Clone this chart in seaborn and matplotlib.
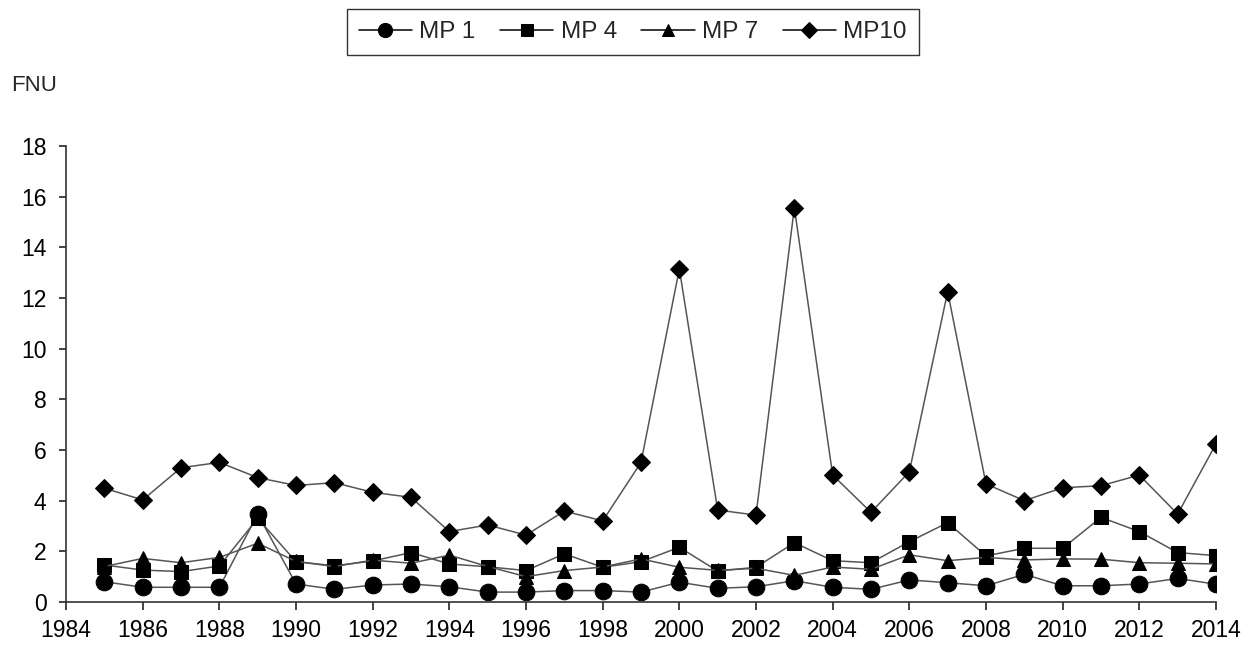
import pandas as pd
import matplotlib.pyplot as plt
import seaborn as sns

# --- Data ---
years = list(range(1985, 2015))

mp1 = [0.80, 0.58, 0.58, 0.58, 3.47, 0.71, 0.50, 0.67, 0.71, 0.60,
       0.39, 0.39, 0.45, 0.45, 0.39, 0.78, 0.54, 0.60, 0.84, 0.58,
       0.50, 0.87, 0.76, 0.64, 1.09, 0.64, 0.64, 0.71, 0.93, 0.70]

mp4 = [1.46, 1.26, 1.20, 1.42, 3.30, 1.59, 1.43, 1.62, 1.95, 1.50,
       1.39, 1.24, 1.90, 1.37, 1.59, 2.16, 1.22, 1.37, 2.34, 1.63,
       1.55, 2.38, 3.13, 1.82, 2.12, 2.12, 3.34, 2.78, 1.95, 1.83]

mp7 = [1.40, 1.72, 1.55, 1.76, 2.32, 1.60, 1.40, 1.65, 1.53, 1.85,
       1.40, 1.00, 1.24, 1.38, 1.70, 1.37, 1.25, 1.33, 1.05, 1.38,
       1.29, 1.86, 1.63, 1.76, 1.66, 1.70, 1.69, 1.55, 1.53, 1.50]

mp10 = [4.49, 4.03, 5.30, 5.51, 4.91, 4.60, 4.71, 4.33, 4.13, 2.78,
        3.04, 2.64, 3.59, 3.20, 5.51, 13.15, 3.63, 3.43, 15.57, 5.01,
        3.54, 5.14, 12.25, 4.66, 4.00, 4.51, 4.59, 5.01, 3.47, 6.24]

series_names = ['MP 1', 'MP 4', 'MP 7', 'MP10']
series_values = [mp1, mp4, mp7, mp10]
markers = {'MP 1': ('o', 12), 'MP 4': ('s', 10.5), 'MP 7': ('^', 10), 'MP10': ('D', 9)}

y_ticks = list(range(0, 19, 2))
x_ticks = list(range(1984, 2015, 2))

# long-format table for seaborn
df = pd.concat([pd.DataFrame({'year': years, 'value': v, 'site': n})
                for n, v in zip(series_names, series_values)], ignore_index=True)

sns.set_style('ticks')
plt.rcParams['font.family'] = ['Liberation Sans', 'DejaVu Sans']

fig = plt.figure(figsize=(12.58, 6.45), dpi=100)
ax = fig.add_axes([0.0525, 0.0667, 0.9141, 0.7069])

for name in series_names:
    m, ms = markers[name]
    sns.lineplot(data=df[df['site'] == name], x='year', y='value', ax=ax,
                 color='#555555', linewidth=1.1, marker=m, markersize=ms,
                 markerfacecolor='black', markeredgecolor='black',
                 label=name, legend=False)

ax.set_xlim(1984, 2014)
ax.set_ylim(0, 18)
ax.set_xticks(x_ticks)
ax.set_yticks(y_ticks)
ax.set_xlabel('')
ax.set_ylabel('')
ax.tick_params(axis='both', labelsize=16.5, colors='#222222', width=1.2, direction='out')
ax.tick_params(axis='y', length=5, pad=9)
ax.tick_params(axis='x', length=6, pad=6)
for side in ['left', 'bottom']:
    ax.spines[side].set_color('#333333')
    ax.spines[side].set_linewidth(1.2)
sns.despine(ax=ax)
for lbl in ax.get_xticklabels() + ax.get_yticklabels():
    lbl.set_color('black')

fig.text(0.009, 0.868, 'FNU', fontsize=16, va='center', ha='left')

handles, labels = ax.get_legend_handles_labels()
leg = fig.legend(handles, labels, loc='center', bbox_to_anchor=(0.503, 0.95), ncol=4,
                 fontsize=17.5, frameon=True, fancybox=False, edgecolor='black',
                 markerscale=0.85, handlelength=2.2, handletextpad=0.3, columnspacing=1.0,
                 borderpad=0.5)
leg.get_frame().set_linewidth(1.0)
for h in leg.legend_handles:
    h.set_color('black')

fig.savefig('out.png', dpi=100)
